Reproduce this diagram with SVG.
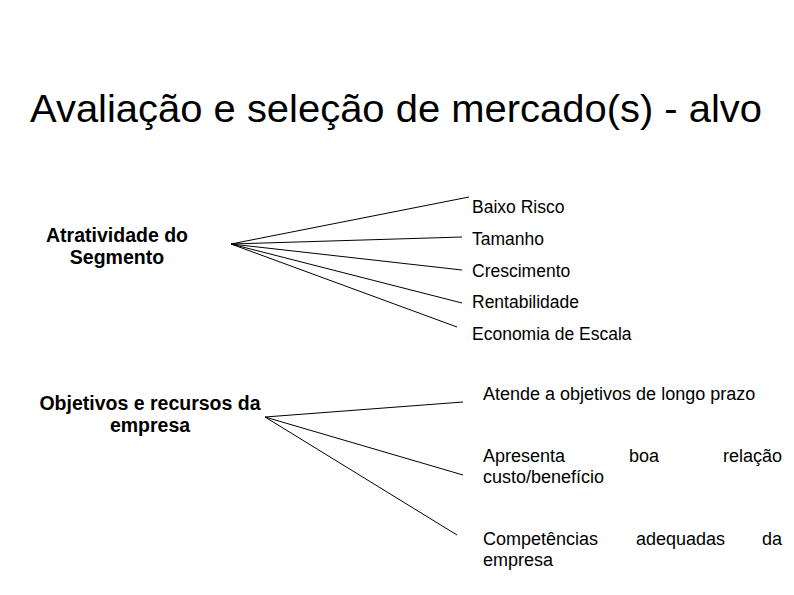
<svg xmlns="http://www.w3.org/2000/svg" width="794" height="595" viewBox="0 0 794 595">
<style>
text{font-family:"Liberation Sans",Arial,sans-serif;fill:#000}
.t{font-size:17.5px}
.b{font-size:19.5px;font-weight:bold;text-anchor:middle}
.r{font-size:18px}
.c line{stroke:#000;stroke-width:1}
</style>
<rect width="794" height="595" fill="#fff"/>
<g id="title"><text x="30" y="122" font-size="38" textLength="732" lengthAdjust="spacingAndGlyphs">Avaliação e seleção de mercado(s) - alvo</text></g>
<g id="atratividade"><text class="b" x="117" y="242">Atratividade do</text><text class="b" x="117" y="264">Segmento</text></g>
<g id="baixo"><text class="t" x="472" y="213">Baixo Risco</text></g>
<g id="tamanho"><text class="t" x="472" y="245">Tamanho</text></g>
<g id="crescimento"><text class="t" x="472" y="277">Crescimento</text></g>
<g id="rentabilidade"><text class="t" x="472" y="308">Rentabilidade</text></g>
<g id="economia"><text class="t" x="472" y="340">Economia de Escala</text></g>
<g id="objetivos"><text class="b" x="150" y="410">Objetivos e recursos da</text><text class="b" x="150" y="432">empresa</text></g>
<g id="atende"><text class="r" x="483" y="400">Atende a objetivos de longo prazo</text></g>
<g id="apresenta"><text class="r" x="483" y="462">Apresenta</text><text class="r" x="629" y="462">boa</text><text class="r" x="782" y="462" text-anchor="end">relação</text><text class="r" x="483" y="483">custo/benefício</text></g>
<g id="competencias"><text class="r" x="483" y="545">Competências</text><text class="r" x="636" y="545">adequadas</text><text class="r" x="782" y="545" text-anchor="end">da</text><text class="r" x="483" y="566">empresa</text></g>
<g id="connectors" class="c">
<line x1="231" y1="244" x2="469" y2="197"/>
<line x1="231" y1="244" x2="462" y2="237"/>
<line x1="231" y1="244" x2="462" y2="270"/>
<line x1="231" y1="244" x2="462" y2="303"/>
<line x1="231" y1="244" x2="457" y2="327"/>
<line x1="265" y1="417" x2="463" y2="402"/>
<line x1="265" y1="417" x2="463" y2="475"/>
<line x1="265" y1="417" x2="457" y2="535"/>
</g>
</svg>
